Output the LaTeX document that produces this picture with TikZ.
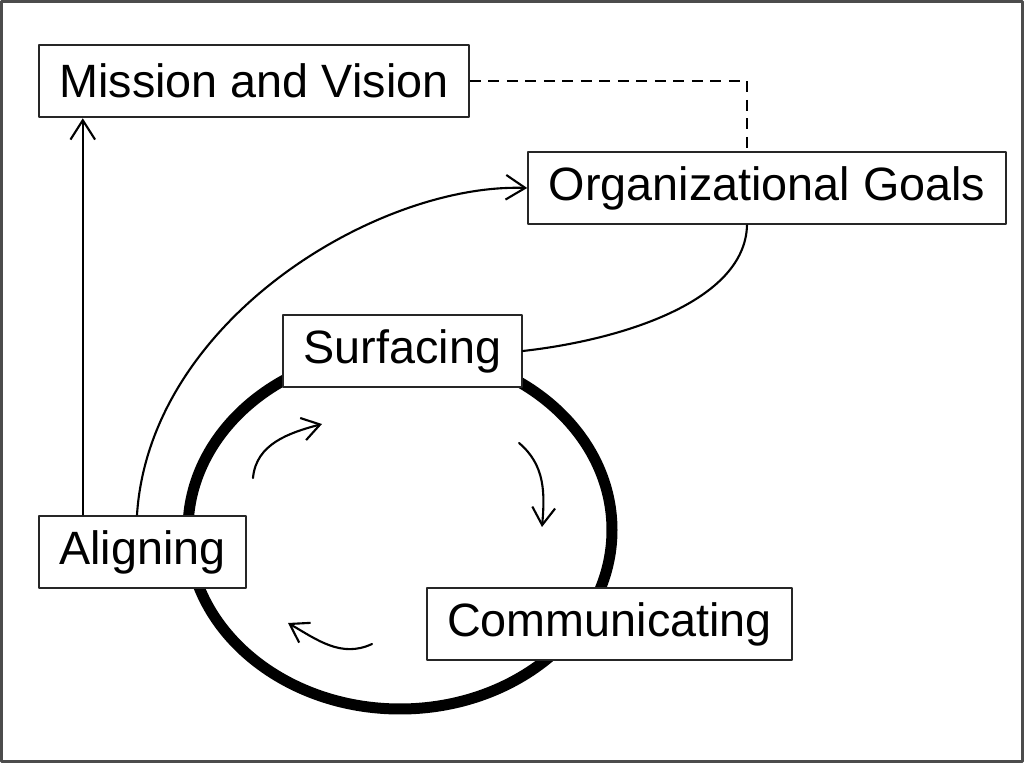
\documentclass[tikz,border=0pt]{standalone}
\usepackage{fontspec}
\setmainfont{Liberation Sans}
\usepackage{tikz}
\usetikzlibrary{arrows.meta}

\begin{document}
\begin{tikzpicture}[line cap=round, line join=round,
    box/.style={draw=black!85, line width=1.2pt, fill=white, inner xsep=0.41cm, inner ysep=0pt,
      minimum height=1.45cm, font=\fontsize{26.6}{32}\selectfont},
    link/.style={line width=1.2pt, -{Straight Barb[length=11pt,width=14pt]}},
    plain link/.style={line width=1.2pt},
    dashed link/.style={line width=1.2pt, line cap=butt, dash pattern=on 0.22cm off 0.15cm},
    cycle ring/.style={line width=0.22cm},
    turn/.style={line width=1.2pt, -{Straight Barb[length=10pt,width=13pt]}},
    frame/.style={draw=black!70, line width=0.05cm}]
  \useasboundingbox (0,0) rectangle (20.48,15.26);
  \draw[frame] (0.03,0.03) rectangle (20.45,15.23);

  \draw[cycle ring] (8.0,4.66) ellipse (4.24cm and 3.58cm);

  \node[box] (mission) at (5.08,13.64) {Mission and Vision};
  \node[box] (goals) at (15.34,11.50) {Organizational Goals};
  \node[box] (surfacing) at (8.05,8.24) {Surfacing};
  \node[box] (aligning) at (2.85,4.22) {Aligning};
  \node[box] (communicating) at (12.19,2.78) {Communicating};

  \draw[link] ([xshift=0.9cm]aligning.north west) -- ([xshift=0.9cm]aligning.north west |- mission.south);
  \draw[link] ([xshift=-0.11cm]aligning.north) .. controls +(0.26,3.92) and +(-2.96,0.1) .. (goals.west);
  \draw[plain link] ([xshift=-0.4cm]goals.south) .. controls +(-0.04,-1.52) and +(1.98,0.22) .. (surfacing.east);
  \draw[dashed link] (mission.east) -| ([xshift=-0.4cm]goals.north);

  \coordinate (t1a) at (5.06,5.70);
  \coordinate (t1b) at (6.44,6.78);
  \coordinate (t2a) at (10.38,6.40);
  \coordinate (t2b) at (10.84,4.72);
  \coordinate (t3a) at (7.44,2.38);
  \coordinate (t3b) at (5.76,2.80);
  \foreach \s/\e/\o/\i in {t1a/t1b/85/195, t2a/t2b/-40/85, t3a/t3b/205/-30}
    \draw[turn] (\s) to[out=\o,in=\i] (\e);
\end{tikzpicture}
\end{document}
